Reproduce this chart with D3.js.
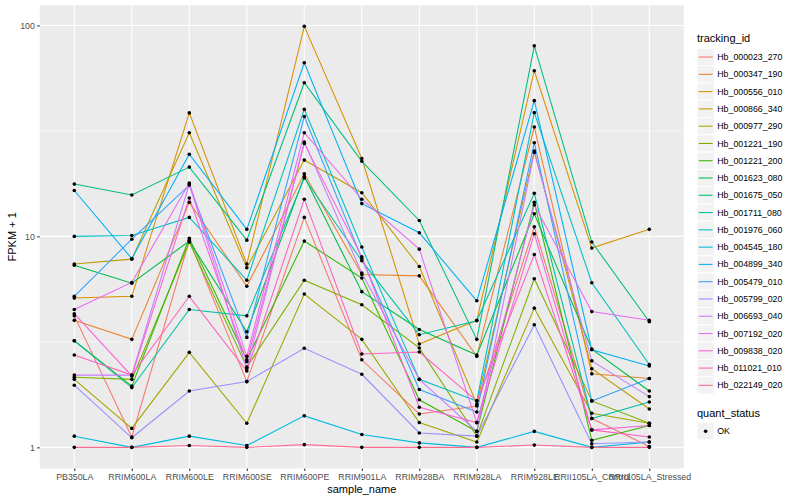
<!DOCTYPE html>
<html>
<head>
<meta charset="utf-8">
<script src="https://cdn.jsdelivr.net/npm/d3@7"></script>
<style>
  body { margin: 0; background: #fff; }
  text { font-family: "Liberation Sans", Arial, sans-serif; }
</style>
</head>
<body>
<div id="chart"></div>
<script>
// x categories
const samples = ["PB350LA", "RRIM600LA", "RRIM600LE", "RRIM600SE", "RRIM600PE", "RRIM901LA",
  "RRIM928BA", "RRIM928LA", "RRIM928LE", "RRII105LA_Control", "RRII105LA_Stressed"];

const trackingIds = ["Hb_000023_270", "Hb_000347_190", "Hb_000556_010", "Hb_000866_340",
  "Hb_000977_290", "Hb_001221_190", "Hb_001221_200", "Hb_001623_080", "Hb_001675_050",
  "Hb_001711_080", "Hb_001976_060", "Hb_004545_180", "Hb_004899_340", "Hb_005479_010",
  "Hb_005799_020", "Hb_006693_040", "Hb_007192_020", "Hb_009838_020", "Hb_011021_010",
  "Hb_022149_020"];

const quantStatus = ["OK"];

// FPKM + 1, one value per sample
const hb_000023_270 = [4.2, 1.12, 9.6, 2.05, 12.3, 2.6, 1.44, 1.57, 11.1, 1.37, 1.01];
const hb_000347_190 = [4.0, 3.25, 14.5, 5.8, 19.8, 6.6, 6.5, 2.7, 33, 2.23, 2.12];
const hb_000556_010 = [5.1, 5.2, 38.5, 7.4, 99, 23.4, 3.09, 4.0, 61, 8.8, 10.8];
const hb_000866_340 = [7.4, 7.8, 31, 7.1, 23, 16.1, 7.2, 1.6, 25.4, 2.36, 1.52];
const hb_000977_290 = [2.1, 1.23, 2.82, 1.3, 5.33, 3.25, 1.31, 1.06, 4.57, 1.45, 1.30];
const hb_001221_190 = [2.15, 2.1, 9.4, 2.4, 6.2, 4.74, 2.96, 1.13, 6.3, 1.66, 1.30];
const hb_001221_200 = [3.2, 1.95, 9.8, 2.6, 9.5, 6.35, 1.68, 1.19, 14.5, 1.08, 1.27];
const hb_001623_080 = [7.3, 6.0, 9.5, 3.53, 19.2, 5.47, 3.62, 2.74, 12.8, 2.92, 1.85];
const hb_001675_050 = [17.7, 15.7, 21.3, 9.6, 53.5, 22.7, 11.9, 3.25, 80, 9.4, 3.94];
const hb_001711_080 = [3.2, 1.92, 4.5, 4.2, 18.9, 7.66, 3.42, 3.98, 16, 1.37, 1.64];
const hb_001976_060 = [10.0, 10.1, 12.3, 6.2, 40, 8.9, 2.1, 1.66, 38.6, 6.03, 2.47];
const hb_004545_180 = [1.13, 1.0, 1.13, 1.02, 1.41, 1.15, 1.05, 1.0, 1.19, 1.0, 1.06];
const hb_004899_340 = [16.5, 7.85, 24.5, 10.8, 66.5, 14.3, 10.4, 4.95, 44, 2.9, 2.43];
const hb_005479_010 = [5.2, 9.7, 17.5, 3.32, 37, 7.86, 1.88, 1.47, 27.8, 1.66, 2.12];
const hb_005799_020 = [1.97, 1.11, 1.85, 2.05, 2.95, 2.22, 1.17, 1.13, 3.81, 1.04, 1.06];
const hb_006693_040 = [2.2, 2.2, 17.7, 2.36, 28, 6.7, 2.1, 1.19, 25, 2.57, 1.74];
const hb_007192_020 = [4.5, 6.05, 17.9, 2.7, 31, 15.0, 8.7, 1.31, 14.1, 4.4, 4.0];
const hb_009838_020 = [4.3, 2.18, 15.2, 2.55, 27.6, 8.0, 1.55, 1.31, 10.3, 1.21, 1.27];
const hb_011021_010 = [2.74, 2.2, 5.2, 2.3, 15.0, 2.77, 2.83, 1.66, 8.2, 1.21, 1.12];
const hb_022149_020 = [1.0, 1.0, 1.02, 1.0, 1.03, 1.0, 1.0, 1.0, 1.025, 1.0, 1.0];

const seriesValues = [hb_000023_270, hb_000347_190, hb_000556_010, hb_000866_340,
  hb_000977_290, hb_001221_190, hb_001221_200, hb_001623_080, hb_001675_050,
  hb_001711_080, hb_001976_060, hb_004545_180, hb_004899_340, hb_005479_010,
  hb_005799_020, hb_006693_040, hb_007192_020, hb_009838_020, hb_011021_010,
  hb_022149_020];

// ggplot hue palette for 20 levels
const palette = ["#F8766D", "#EA8331", "#D89000", "#C09B00", "#A3A500", "#7CAE00", "#39B600",
  "#00BB4E", "#00BF7D", "#00C1A3", "#00BFC4", "#00BAE0", "#00B0F6", "#35A2FF", "#9590FF",
  "#C77CFF", "#E76BF3", "#FA62DB", "#FF62BC", "#FF6C91"];

const W = 800, H = 500;
const panel = { left: 39.8, right: 683.8, top: 5.3, bottom: 468.4 };

const series = trackingIds.map((id, i) => ({
  id: id,
  color: palette[i],
  points: samples.map((s, j) => ({ sample: s, value: seriesValues[i][j] }))
}));

const svg = d3.select("#chart").append("svg")
  .attr("width", W).attr("height", H)
  .style("background", "#fff");

// scales
const x = d3.scalePoint().domain(samples)
  .range([panel.left, panel.right]).padding(0.6);

const allVals = seriesValues.flat();
const [lo, hi] = d3.extent(allVals).map(Math.log10);
const pad = (hi - lo) * 0.05;
const y = d3.scaleLog()
  .domain([Math.pow(10, lo - pad), Math.pow(10, hi + pad)])
  .range([panel.bottom, panel.top]);

// panel background + grid
svg.append("rect")
  .attr("x", panel.left).attr("y", panel.top)
  .attr("width", panel.right - panel.left).attr("height", panel.bottom - panel.top)
  .attr("fill", "#EBEBEB");

const grid = svg.append("g");
[Math.sqrt(10), Math.sqrt(1000)].forEach(v => {
  grid.append("line")
    .attr("x1", panel.left).attr("x2", panel.right)
    .attr("y1", y(v)).attr("y2", y(v))
    .attr("stroke", "#fff").attr("stroke-width", 0.53);
});
[1, 10, 100].forEach(v => {
  grid.append("line")
    .attr("x1", panel.left).attr("x2", panel.right)
    .attr("y1", y(v)).attr("y2", y(v))
    .attr("stroke", "#fff").attr("stroke-width", 1.07);
});
samples.forEach(s => {
  grid.append("line")
    .attr("x1", x(s)).attr("x2", x(s))
    .attr("y1", panel.top).attr("y2", panel.bottom)
    .attr("stroke", "#fff").attr("stroke-width", 1.07);
});

// lines
const line = d3.line()
  .x(d => x(d.sample))
  .y(d => y(d.value));

svg.append("g").selectAll("path")
  .data(series)
  .join("path")
  .attr("d", d => line(d.points))
  .attr("fill", "none")
  .attr("stroke", d => d.color)
  .attr("stroke-width", 1.07);

// points
svg.append("g").selectAll("g")
  .data(series)
  .join("g")
  .selectAll("circle")
  .data(d => d.points)
  .join("circle")
  .attr("cx", d => x(d.sample))
  .attr("cy", d => y(d.value))
  .attr("r", 1.8)
  .attr("fill", "#000");

// axes
const xAxis = svg.append("g")
  .attr("transform", `translate(0,${panel.bottom})`)
  .call(d3.axisBottom(x).tickSize(2.7).tickPadding(2.2));
const yAxis = svg.append("g")
  .attr("transform", `translate(${panel.left},0)`)
  .call(d3.axisLeft(y).tickValues([1, 10, 100]).tickFormat(d3.format("d"))
    .tickSize(2.7).tickPadding(2.2));

[xAxis, yAxis].forEach(a => {
  a.select(".domain").remove();
  a.selectAll(".tick line").attr("stroke", "#333333").attr("stroke-width", 1.07);
  a.selectAll(".tick text")
    .attr("fill", "#4D4D4D")
    .style("font-size", "8.8px")
    .style("font-family", "'Liberation Sans', Arial, sans-serif");
});

// axis titles
svg.append("text")
  .attr("x", (panel.left + panel.right) / 2).attr("y", 493)
  .attr("text-anchor", "middle")
  .style("font-size", "11px")
  .text("sample_name");

svg.append("text")
  .attr("transform", `translate(16,${(panel.top + panel.bottom) / 2}) rotate(-90)`)
  .attr("text-anchor", "middle")
  .style("font-size", "11px")
  .text("FPKM + 1");

// legend: tracking_id
const legX = 697, keyW = 17.28, keyH = 17.28;
const leg = svg.append("g");
leg.append("text")
  .attr("x", legX).attr("y", 42)
  .style("font-size", "11px")
  .text("tracking_id");

const rows = leg.selectAll("g.row")
  .data(series)
  .join("g")
  .attr("class", "row")
  .attr("transform", (d, i) => `translate(${legX},${48.4 + i * keyH})`);
rows.append("rect")
  .attr("width", keyW).attr("height", keyH)
  .attr("fill", "#F2F2F2").attr("stroke", "#fff").attr("stroke-width", 1);
rows.append("line")
  .attr("x1", 1.7).attr("x2", keyW - 1.7)
  .attr("y1", keyH / 2).attr("y2", keyH / 2)
  .attr("stroke", d => d.color).attr("stroke-width", 1.07);
rows.append("text")
  .attr("x", keyW + 3).attr("y", keyH / 2)
  .attr("dy", "0.35em")
  .style("font-size", "8.8px")
  .text(d => d.id);

// legend: quant_status
const leg2 = svg.append("g");
leg2.append("text")
  .attr("x", legX).attr("y", 417)
  .style("font-size", "11px")
  .text("quant_status");
const qRows = leg2.selectAll("g.q")
  .data(quantStatus)
  .join("g")
  .attr("class", "q")
  .attr("transform", (d, i) => `translate(${legX},${422.6 + i * keyH})`);
qRows.append("rect")
  .attr("width", keyW).attr("height", keyH)
  .attr("fill", "#F2F2F2").attr("stroke", "#fff").attr("stroke-width", 1);
qRows.append("circle")
  .attr("cx", keyW / 2).attr("cy", keyH / 2).attr("r", 1.8)
  .attr("fill", "#000");
qRows.append("text")
  .attr("x", keyW + 3).attr("y", keyH / 2)
  .attr("dy", "0.35em")
  .style("font-size", "8.8px")
  .text(d => d);
</script>
</body>
</html>
